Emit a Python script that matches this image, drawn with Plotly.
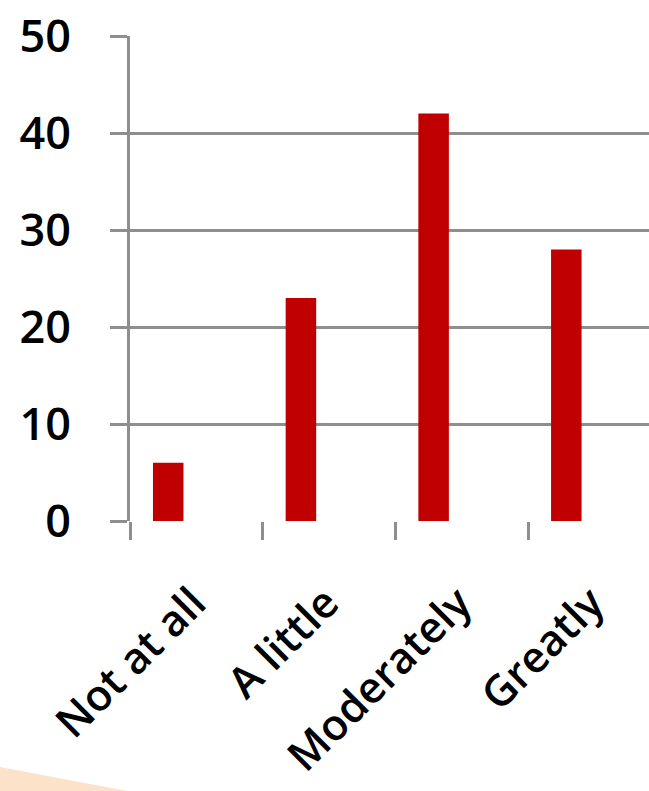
import plotly.graph_objects as go

categories = ["Not at all", "A little", "Moderately", "Greatly"]
values = [6, 23, 42, 28]
y_ticks = [0, 10, 20, 30, 40, 50]

W, H = 649, 791
ml, mt, mb = 130, 36, 270
plot_w = W - ml
plot_h = H - mt - mb
cat_px = 132.7

fig = go.Figure(
    go.Bar(
        x=categories,
        y=values,
        width=0.23,
        offset=-0.327,
        marker=dict(color="#c00000", line=dict(width=0)),
    )
)

grid_col = "#8e8e8e"
font_fam = "Open Sans"

fig.update_layout(
    width=W,
    height=H,
    margin=dict(l=ml, r=0, t=mt, b=mb, autoexpand=False),
    plot_bgcolor="white",
    paper_bgcolor="white",
    showlegend=False,
    font=dict(family=font_fam, color="black"),
)

fig.update_xaxes(
    type="category",
    automargin=False,
    range=[-0.5, -0.5 + plot_w / cat_px],
    tickson="boundaries",
    ticks="outside",
    ticklen=18,
    tickwidth=3,
    tickcolor=grid_col,
    showgrid=False,
    showline=False,
    tickangle=-45,
    tickfont=dict(size=43, family=font_fam, color="black", weight=600),
    ticklabelshift=-3,
    ticklabelstandoff=47,
)

fig.update_yaxes(
    automargin=False,
    range=[0, 50],
    tickvals=y_ticks,
    ticks="outside",
    ticklen=17,
    tickwidth=3,
    tickcolor=grid_col,
    showgrid=True,
    gridcolor=grid_col,
    gridwidth=3,
    showline=True,
    linecolor=grid_col,
    linewidth=3,
    zeroline=False,
    tickfont=dict(size=45, family=font_fam, color="black", weight=600),
    ticklabelstandoff=30,
)

# decorative peach background wedge in the lower-left corner
def px_to_paper(px, py):
    return (px - ml) / plot_w, (H - mb - py) / plot_h

p1 = px_to_paper(0, 767)
p2 = px_to_paper(127, H)
p3 = px_to_paper(0, H)
fig.add_shape(
    type="path",
    xref="paper",
    yref="paper",
    path=f"M {p1[0]} {p1[1]} L {p2[0]} {p2[1]} L {p3[0]} {p3[1]} Z",
    fillcolor="#fbe2c8",
    line=dict(width=0),
    layer="below",
)

fig.write_html("out.html")
